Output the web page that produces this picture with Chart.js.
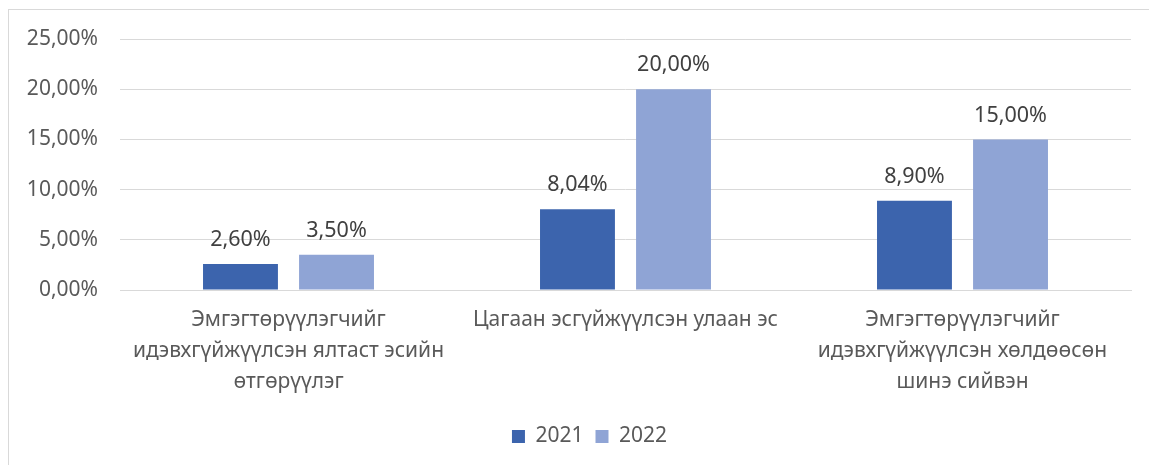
<!DOCTYPE html>
<html>
<head>
<meta charset="utf-8">
<script src="https://cdn.jsdelivr.net/npm/chart.js@4/dist/chart.umd.min.js"></script>
<style>
html,body{margin:0;padding:0;background:#fff;}
#wrap{position:absolute;left:0;top:0;width:1149px;height:465px;}
#frame{position:absolute;left:8px;top:9px;width:1160px;height:470px;border-left:1px solid #d9d9d9;border-top:1px solid #d9d9d9;}
</style>
</head>
<body>
<div id="frame"></div>
<div id="wrap"><canvas id="c" width="1149" height="465"></canvas></div>
<script>
const categories = [
  ["Эмгэгтөрүүлэгчийг", "идэвхгүйжүүлсэн ялтаст эсийн", "өтгөрүүлэг"],
  "Цагаан эсгүйжүүлсэн улаан эс",
  ["Эмгэгтөрүүлэгчийг", "идэвхгүйжүүлсэн хөлдөөсөн", "шинэ сийвэн"]
];
const seriesNames = ["2021", "2022"];
const values2021 = [2.60, 8.04, 8.90];
const values2022 = [3.50, 20.00, 15.00];
const yTicks = [0, 5, 10, 15, 20, 25];

const FONT = "'Noto Sans', sans-serif";
const TXT = "#595959";
const fmt = v => v.toFixed(2).replace('.', ',') + '%';

const labelPlugin = {
  id: 'valueLabels',
  afterLayout(chart) {
    if (chart.legend) { chart.legend.left += 48; }
  },
  afterDatasetsDraw(chart) {
    const ctx = chart.ctx;
    ctx.save();
    ctx.font = "21.5px " + FONT;
    ctx.fillStyle = "#404040";
    ctx.textAlign = "center";
    ctx.textBaseline = "middle";
    chart.data.datasets.forEach((ds, i) => {
      const meta = chart.getDatasetMeta(i);
      meta.data.forEach((el, j) => {
        ctx.fillText(fmt(ds.data[j]), el.x, el.y - 24);
      });
    });
    ctx.restore();
  }
};

new Chart(document.getElementById('c'), {
  type: 'bar',
  data: {
    labels: categories,
    datasets: [
      { label: seriesNames[0], data: values2021, backgroundColor: '#3c64ad', categoryPercentage: 0.57, barPercentage: 0.78 },
      { label: seriesNames[1], data: values2022, backgroundColor: '#8fa4d5', categoryPercentage: 0.57, barPercentage: 0.78 }
    ]
  },
  options: {
    responsive: false,
    animation: false,
    devicePixelRatio: 1,
    layout: { padding: { left: 0, right: 18, top: 39, bottom: 8 } },
    plugins: {
      legend: {
        position: 'bottom',
        labels: { font: { family: FONT, size: 21 }, color: TXT, boxWidth: 13, boxHeight: 13, padding: 12 }
      },
      tooltip: { enabled: false }
    },
    scales: {
      x: {
        grid: { display: false, drawTicks: false },
        border: { display: true, color: '#d9d9d9', width: 1 },
        ticks: { font: { family: FONT, size: 21, lineHeight: 1.48 }, color: TXT, maxRotation: 0, autoSkip: false, padding: 14 },
        afterFit: s => { s.height = 124; }
      },
      y: {
        min: 0, max: 25,
        afterBuildTicks: s => { s.ticks = yTicks.map(v => ({ value: v })); },
        grid: { color: '#d9d9d9', lineWidth: 1, drawTicks: false },
        border: { display: false },
        ticks: { font: { family: FONT, size: 21 }, color: TXT, padding: 22, callback: v => fmt(v) },
        afterFit: s => { s.width = 120; }
      }
    }
  },
  plugins: [labelPlugin]
});
</script>
</body>
</html>
